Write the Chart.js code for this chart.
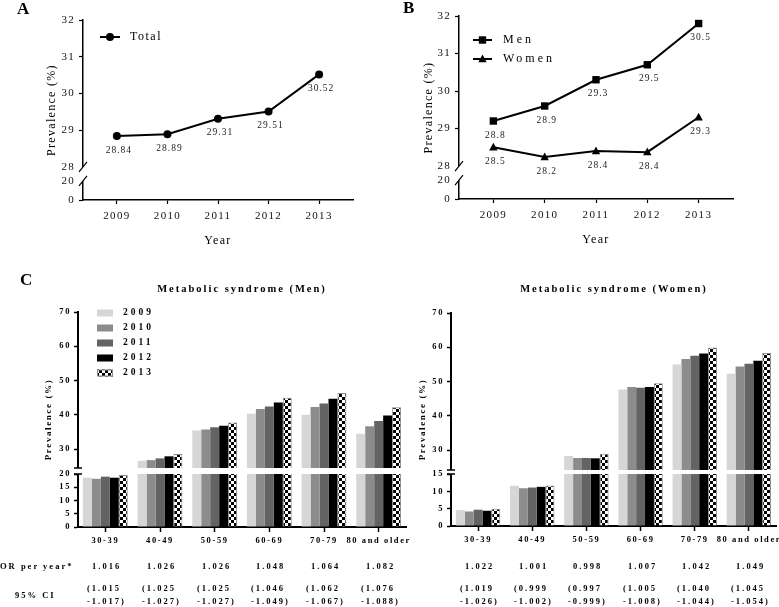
<!DOCTYPE html>
<html>
<head>
<meta charset="utf-8">
<script src="https://cdn.jsdelivr.net/npm/chart.js@4.4.0/dist/chart.umd.min.js"></script>
<style>
body{margin:0;background:#fff;width:779px;height:607px;position:relative;overflow:hidden;font-family:"Liberation Serif",serif;color:#000;}
canvas{position:absolute;}
.txt{position:absolute;white-space:nowrap;color:#000;will-change:transform;}
.panel{font-weight:bold;font-size:17px;line-height:18px;}
.ctitle{font-weight:bold;font-size:10.5px;letter-spacing:2px;transform:translate(-50%,-50%);}
.cell{font-weight:bold;font-size:8.5px;letter-spacing:2px;line-height:13px;}
</style>
</head>
<body>
<div class="txt panel" style="left:17px;top:0px">A</div>
<div class="txt panel" style="left:403px;top:-1px">B</div>
<div class="txt panel" style="left:20px;top:271px">C</div>
<div class="txt ctitle" style="left:242px;top:288px">Metabolic syndrome (Men)</div>
<div class="txt ctitle" style="left:614px;top:288px">Metabolic syndrome (Women)</div>
<div class="txt cell" style="left:0px;top:560px">OR per year*</div>
<div class="txt cell" style="left:15px;top:589px">95% CI</div>

<canvas id="chartA" width="380" height="260" style="left:0;top:0"></canvas>
<canvas id="chartB" width="389" height="260" style="left:390px;top:0"></canvas>
<canvas id="chartMen" width="422" height="258" style="left:0;top:295px"></canvas>
<canvas id="chartWomen" width="399" height="257" style="left:380px;top:295px"></canvas>
<div id="table"></div>

<script>
// panel A / B
const years = [2009, 2010, 2011, 2012, 2013];
const totalValues = [28.84, 28.89, 29.31, 29.51, 30.52];
const menValues = [29.2, 29.6, 30.3, 30.7, 31.8];
const menText = ['28.8', '28.9', '29.3', '29.5', '30.5'];
const womenValues = [28.5, 28.24, 28.4, 28.37, 29.3];
const womenText = ['28.5', '28.2', '28.4', '28.4', '29.3'];
const lineTicks = [0, 20, 28, 29, 30, 31, 32];

// panel C
const ageGroups = ['30-39', '40-49', '50-59', '60-69', '70-79', '80 and older'];
const seriesYears = ['2009', '2010', '2011', '2012', '2013'];
const men2009 = [18.6, 26.6, 35.4, 40.3, 40.0, 34.5];
const men2010 = [18.2, 26.8, 35.7, 41.7, 42.3, 36.7];
const men2011 = [19.0, 27.3, 36.4, 42.4, 43.3, 38.2];
const men2012 = [18.6, 27.9, 36.8, 43.6, 44.7, 39.8];
const men2013 = [19.6, 28.6, 37.8, 45.0, 46.4, 42.2];
const women2009 = [4.6, 11.6, 28.3, 47.7, 55.0, 52.3];
const women2010 = [4.2, 10.9, 27.7, 48.4, 56.6, 54.4];
const women2011 = [4.7, 11.1, 27.7, 48.2, 57.5, 55.2];
const women2012 = [4.4, 11.3, 27.6, 48.4, 58.2, 56.1];
const women2013 = [5.0, 11.7, 28.9, 49.5, 59.9, 58.3];
const menTicks = [0, 5, 10, 15, 20, 30, 40, 50, 60, 70];
const womenTicks = [0, 5, 10, 15, 30, 40, 50, 60, 70];

const orMen = ['1.016', '1.026', '1.026', '1.048', '1.064', '1.082'];
const ciLowMen = ['1.015', '1.025', '1.025', '1.046', '1.062', '1.076'];
const ciHighMen = ['1.017', '1.027', '1.027', '1.049', '1.067', '1.088'];
const orWomen = ['1.022', '1.001', '0.998', '1.007', '1.042', '1.049'];
const ciLowWomen = ['1.019', '0.999', '0.997', '1.005', '1.040', '1.045'];
const ciHighWomen = ['1.026', '1.002', '0.999', '1.008', '1.044', '1.054'];

const FONT = '"Liberation Serif", serif';

// linear scale with a cut between lowMax and highMin
class BrokenScale extends Chart.LinearScale {
    toDecimal(v) {
        const b = this.options.brk;
        const highStart = b.lowFrac + b.gapFrac;
        if (v <= b.lowMax) return (v - this.min) / (b.lowMax - this.min) * b.lowFrac;
        if (v >= b.highMin) return highStart + (v - b.highMin) / (this.max - b.highMin) * (1 - highStart);
        return b.lowFrac + (v - b.lowMax) / (b.highMin - b.lowMax) * b.gapFrac;
    }
    getPixelForValue(value) {
        if (value === null || value === undefined || isNaN(value)) return NaN;
        return this.getPixelForDecimal(this.toDecimal(value));
    }
    getValueForPixel(pixel) {
        const b = this.options.brk;
        const d = this.getDecimalForPixel(pixel);
        const highStart = b.lowFrac + b.gapFrac;
        if (d <= b.lowFrac) return this.min + d / b.lowFrac * (b.lowMax - this.min);
        if (d >= highStart) return b.highMin + (d - highStart) / (1 - highStart) * (this.max - b.highMin);
        return b.lowMax + (d - b.lowFrac) / b.gapFrac * (b.highMin - b.lowMax);
    }
}
BrokenScale.id = 'broken';
BrokenScale.defaults = Chart.LinearScale.defaults;
Chart.register(BrokenScale);

const spacingPlugin = {
    id: 'spacing',
    beforeDraw(chart, args, opts) {
        chart.ctx.letterSpacing = opts.value || '0px';
    }
};

const breakPlugin = {
    id: 'breakMarks',
    afterDatasetsDraw(chart, args, opts) {
        const y = chart.scales.y, area = chart.chartArea, ctx = chart.ctx;
        const b = y.options.brk;
        const top = y.getPixelForValue(b.highMin), bot = y.getPixelForValue(b.lowMax);
        const x = area.left;
        ctx.save();
        ctx.fillStyle = '#fff';
        if (opts.style === 'bar') {
            ctx.fillRect(x - 1.5, top, area.right - x + 2, bot - top);
            ctx.strokeStyle = '#000';
            ctx.lineWidth = 1.5;
            ctx.beginPath();
            ctx.moveTo(x - 4, top); ctx.lineTo(x + 4, top);
            ctx.moveTo(x - 4, bot); ctx.lineTo(x + 4, bot);
            ctx.stroke();
        } else {
            ctx.fillRect(x - 2, top, 4, bot - top);
            ctx.strokeStyle = '#000';
            ctx.lineWidth = 1.2;
            ctx.beginPath();
            ctx.moveTo(x - 4, top + 5); ctx.lineTo(x + 4, top - 5);
            ctx.moveTo(x - 4, bot + 5); ctx.lineTo(x + 4, bot - 5);
            ctx.stroke();
        }
        ctx.restore();
    }
};

function drawMarker(ctx, style, x, y, r) {
    ctx.beginPath();
    if (style === 'rect') {
        ctx.rect(x - r, y - r, 2 * r, 2 * r);
    } else if (style === 'triangle') {
        ctx.moveTo(x, y - r * 1.1);
        ctx.lineTo(x + r, y + r * 0.75);
        ctx.lineTo(x - r, y + r * 0.75);
        ctx.closePath();
    } else {
        ctx.arc(x, y, r, 0, Math.PI * 2);
    }
    ctx.fill();
}

const pointLabelPlugin = {
    id: 'pointLabels',
    afterDatasetsDraw(chart, args, opts) {
        const ctx = chart.ctx;
        ctx.save();
        ctx.font = '9.5px ' + FONT;
        ctx.letterSpacing = '1px';
        ctx.fillStyle = '#222';
        ctx.textAlign = 'center';
        ctx.textBaseline = 'middle';
        chart.data.datasets.forEach((ds, i) => {
            chart.getDatasetMeta(i).data.forEach((pt, j) => {
                ctx.fillText(ds.pointText[j], pt.x + opts.dx, pt.y + opts.dy);
            });
        });
        ctx.restore();
    }
};

const insideLegend = {
    id: 'insideLegend',
    afterDraw(chart, args, o) {
        if (!o.show) return;
        const ctx = chart.ctx;
        ctx.save();
        ctx.font = o.font;
        ctx.letterSpacing = o.spacing;
        ctx.textBaseline = 'middle';
        chart.data.datasets.forEach((ds, i) => {
            const y = o.y + i * o.row;
            if (o.kind === 'box') {
                ctx.fillStyle = ds.backgroundColor;
                ctx.fillRect(o.x, y - o.h / 2, o.w, o.h);
                if (ds.borderWidth) {
                    ctx.strokeStyle = ds.borderColor;
                    ctx.lineWidth = 1;
                    ctx.strokeRect(o.x + 0.5, y - o.h / 2 + 0.5, o.w - 1, o.h - 1);
                }
            } else {
                ctx.strokeStyle = '#000';
                ctx.lineWidth = 2;
                ctx.beginPath();
                ctx.moveTo(o.x, y); ctx.lineTo(o.x + o.w, y);
                ctx.stroke();
                ctx.fillStyle = '#000';
                drawMarker(ctx, ds.pointStyle, o.x + o.w / 2, y, ds.markerSize);
            }
            ctx.fillStyle = '#000';
            ctx.fillText(ds.label, o.x + o.w + o.gap, y);
        });
        ctx.restore();
    }
};

const markerPlugin = {
    id: 'markers',
    afterDatasetsDraw(chart) {
        const ctx = chart.ctx;
        ctx.save();
        ctx.fillStyle = '#000';
        chart.data.datasets.forEach((ds, i) => {
            chart.getDatasetMeta(i).data.forEach(pt => drawMarker(ctx, ds.pointStyle, pt.x, pt.y, ds.markerSize));
        });
        ctx.restore();
    }
};

function lineChart(id, datasets, layout) {
    return new Chart(document.getElementById(id), {
        type: 'line',
        data: {datasets: datasets},
        plugins: [spacingPlugin, breakPlugin, markerPlugin, pointLabelPlugin, insideLegend],
        options: {
            responsive: false,
            animation: false,
            events: [],
            layout: {padding: {top: layout.top, right: layout.right, left: 0, bottom: 0}},
            elements: {point: {radius: 0}, line: {borderColor: '#000', borderWidth: 2, tension: 0}},
            plugins: {
                legend: {display: false},
                tooltip: {enabled: false},
                spacing: {value: '1.3px'},
                breakMarks: {style: 'slash'},
                pointLabels: {dx: 2, dy: 14},
                insideLegend: layout.legend
            },
            scales: {
                x: {
                    type: 'linear',
                    min: years[0] - 0.67,
                    max: years[years.length - 1] + 0.67,
                    afterBuildTicks: s => { s.ticks = years.map(v => ({value: v})); },
                    afterFit: s => { s.height = layout.xHeight; },
                    grid: {drawOnChartArea: false, tickLength: 4, color: '#000', tickWidth: 1.2},
                    border: {color: '#000', width: 1.5},
                    ticks: {color: '#111', padding: 6, font: {family: FONT, size: 11}, callback: v => String(v), maxRotation: 0},
                    title: {display: true, text: 'Year', color: '#000', font: {family: FONT, size: 12}, padding: {top: 0, bottom: layout.titleBottom}}
                },
                y: {
                    type: 'broken',
                    min: 0,
                    max: 32,
                    brk: layout.brk,
                    afterBuildTicks: s => { s.ticks = lineTicks.map(v => ({value: v})); },
                    afterFit: s => { s.width = layout.yWidth; },
                    grid: {drawOnChartArea: false, tickLength: 4, tickWidth: 1.2,
                        tickColor: c => (c.tick && (c.tick.value === 20 || c.tick.value === 28)) ? 'rgba(0,0,0,0)' : '#000'},
                    border: {color: '#000', width: 1.5},
                    ticks: {color: '#111', padding: 4, font: {family: FONT, size: 11}, callback: v => String(v)},
                    title: {display: true, text: 'Prevalence (%)', color: '#000', font: {family: FONT, size: 12}, padding: {top: layout.titleLeft, bottom: 0}}
                }
            }
        }
    });
}

lineChart('chartA', [
    {label: 'Total', data: years.map((y, i) => ({x: y, y: totalValues[i]})), pointText: totalValues.map(String), pointStyle: 'circle', markerSize: 4}
], {top: 20, right: 27, yWidth: 83, xHeight: 60, titleBottom: 12, titleLeft: 45,
    brk: {lowMax: 20, highMin: 28, lowFrac: 0.1056, gapFrac: 0.0778},
    legend: {show: true, kind: 'line', x: 100, y: 37, row: 19, w: 20, gap: 10, font: '12px ' + FONT, spacing: '1.5px'}});

lineChart('chartB', [
    {label: 'Men', data: years.map((y, i) => ({x: y, y: menValues[i]})), pointText: menText, pointStyle: 'rect', markerSize: 3.7},
    {label: 'Women', data: years.map((y, i) => ({x: y, y: womenValues[i]})), pointText: womenText, pointStyle: 'triangle', markerSize: 4.2}
], {top: 16, right: 46, yWidth: 69, xHeight: 61, titleBottom: 13, titleLeft: 32,
    brk: {lowMax: 20, highMin: 28, lowFrac: 0.1038, gapFrac: 0.0765},
    legend: {show: true, kind: 'line', x: 83, y: 40, row: 19, w: 19, gap: 11, font: '12px ' + FONT, spacing: '3px'}});

function checkerFor(id) {
    const tile = document.createElement('canvas');
    tile.width = 6; tile.height = 6;
    const g = tile.getContext('2d');
    g.fillStyle = '#fff'; g.fillRect(0, 0, 6, 6);
    g.fillStyle = '#000'; g.fillRect(0, 0, 3, 3); g.fillRect(3, 3, 3, 3);
    return document.getElementById(id).getContext('2d').createPattern(tile, 'repeat');
}

function barChart(id, series, ticks, layout) {
    const fills = ['#d6d6d6', '#8c8c8c', '#636363', '#000000', checkerFor(id)];
    const datasets = series.map((vals, i) => ({
        label: seriesYears[i],
        data: vals,
        backgroundColor: fills[i],
        borderColor: '#8a8a8a',
        borderWidth: i === 4 ? 1 : 0,
        categoryPercentage: 0.82,
        barPercentage: 1
    }));
    return new Chart(document.getElementById(id), {
        type: 'bar',
        data: {labels: ageGroups, datasets: datasets},
        plugins: [spacingPlugin, breakPlugin, insideLegend],
        options: {
            responsive: false,
            animation: false,
            events: [],
            layout: {padding: {top: layout.top, right: layout.right, left: 0, bottom: 0}},
            plugins: {
                legend: {display: false},
                tooltip: {enabled: false},
                spacing: {value: '1.6px'},
                breakMarks: {style: 'bar'},
                insideLegend: layout.legend
            },
            scales: {
                x: {
                    type: 'category',
                    offset: true,
                    afterFit: s => { s.height = layout.xHeight; },
                    grid: {offset: false, drawOnChartArea: false, tickLength: 5, tickWidth: 1.5, color: '#000'},
                    border: {color: '#000', width: 2},
                    ticks: {color: '#000', padding: 4, autoSkip: false, maxRotation: 0, font: {family: FONT, size: 8.5, weight: 'bold'}}
                },
                y: {
                    type: 'broken',
                    min: 0,
                    max: 70,
                    brk: layout.brk,
                    afterBuildTicks: s => { s.ticks = ticks.map(v => ({value: v})); },
                    afterFit: s => { s.width = layout.yWidth; },
                    grid: {drawOnChartArea: false, tickLength: 4, tickWidth: 1.5, color: '#000'},
                    border: {color: '#000', width: 2},
                    ticks: {color: '#000', padding: 3, font: {family: FONT, size: 8.5, weight: 'bold'}, callback: v => String(v)},
                    title: {display: true, text: 'Prevalence (%)', color: '#000', font: {family: FONT, size: 9, weight: 'bold'}, padding: {top: layout.titleLeft, bottom: 0}}
                }
            }
        }
    });
}

const menChart = barChart('chartMen', [men2009, men2010, men2011, men2012, men2013], menTicks,
    {top: 17, right: 16, yWidth: 78, xHeight: 26, titleLeft: 43,
     brk: {lowMax: 20, highMin: 24.5, lowFrac: 0.2465, gapFrac: 0.028},
     legend: {show: true, kind: 'box', x: 97, y: 18, row: 15, w: 16, h: 7, gap: 10, font: 'bold 9.5px ' + FONT, spacing: '3px'}});

const womenChart = barChart('chartWomen', [women2009, women2010, women2011, women2012, women2013], womenTicks,
    {top: 18, right: 3, yWidth: 71, xHeight: 26, titleLeft: 37,
     brk: {lowMax: 15, highMin: 24.2, lowFrac: 0.244, gapFrac: 0.019},
     legend: {show: false}});

// OR / CI rows under the bar charts
function addCells(chart, left, orVals, lows, highs) {
    const table = document.getElementById('table');
    orVals.forEach((v, i) => {
        const cx = left + chart.scales.x.getPixelForValue(i);
        const or = document.createElement('div');
        or.className = 'txt cell';
        or.style.left = (cx - 13) + 'px';
        or.style.top = '560px';
        or.textContent = v;
        table.appendChild(or);
        const ci = document.createElement('div');
        ci.className = 'txt cell';
        ci.style.left = (cx - 18) + 'px';
        ci.style.top = '582px';
        ci.innerHTML = '(' + lows[i] + '<br>-' + highs[i] + ')';
        table.appendChild(ci);
    });
}
addCells(menChart, 0, orMen, ciLowMen, ciHighMen);
addCells(womenChart, 380, orWomen, ciLowWomen, ciHighWomen);
</script>
</body>
</html>
